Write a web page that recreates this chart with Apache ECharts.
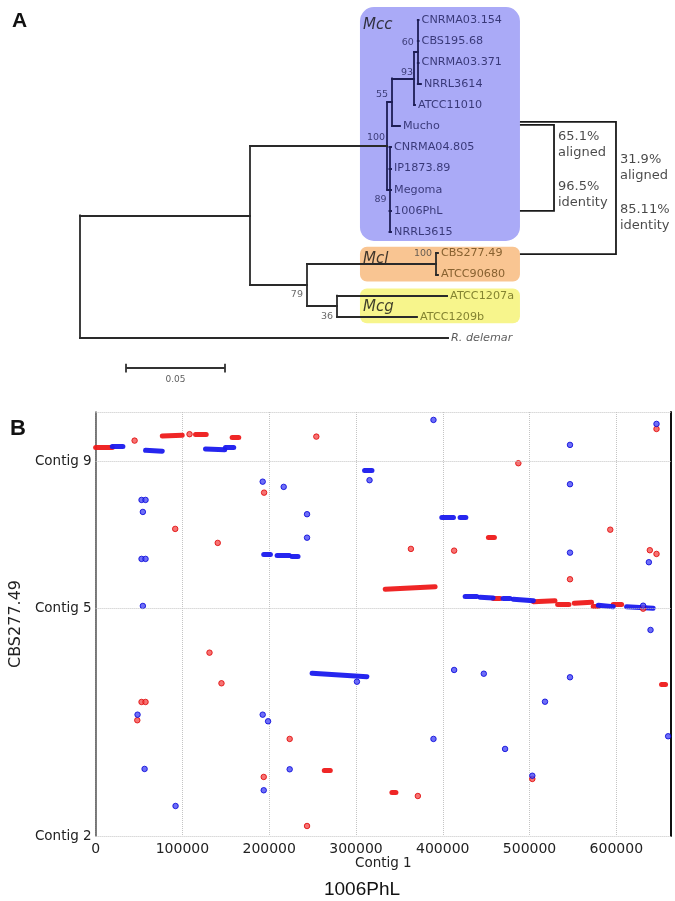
<!DOCTYPE html>
<html><head><meta charset="utf-8">
<script src="https://cdn.jsdelivr.net/npm/echarts@6/dist/echarts.min.js"></script>
<style>html,body{margin:0;padding:0;background:#fff}#c{width:675px;height:901px}</style>
</head><body><div id="c"></div>
<script>
// ================= Panel A : phylogenetic tree (data units: substitutions/site, leaf row) =================
const nodeIds     = ['root','nA','nMcc','n55','n93','n60','n89','n79','nMcl','n36'];
const nodeParent  = [null,'root','nA','nMcc','n55','n93','nMcc','nA','n79','n79'];
const nodeDepth   = [0,0.0859,0.1551,0.1576,0.1687,0.1706,0.1563,0.1146,0.1798,0.1298];
const nodeSupport = ['','','100','55','93','60','89','79','100','36'];

const leafNames  = ['CNRMA03.154','CBS195.68','CNRMA03.371','NRRL3614','ATCC11010','Mucho','CNRMA04.805','IP1873.89','Megoma','1006PhL','NRRL3615','CBS277.49','ATCC90680','ATCC1207a','ATCC1209b','R. delemar'];
const leafParent = ['n60','n60','n60','n60','n93','n55','n89','n89','n89','n89','n89','nMcl','nMcl','n36','n36','root'];
const leafDepth  = [0.1710,0.1710,0.1710,0.1722,0.1692,0.1616,0.1571,0.1571,0.1571,0.1571,0.1571,0.1808,0.1808,0.1854,0.1702,0.1859];
const leafClade  = ['Mcc','Mcc','Mcc','Mcc','Mcc','Mcc','Mcc','Mcc','Mcc','Mcc','Mcc','Mcl','Mcl','Mcg','Mcg','out'];

const cladeNames     = ['Mcc','Mcl','Mcg'];
const cladeBoxDepth  = [[0.1414,0.2222],[0.1414,0.2222],[0.1414,0.2222]];
const cladeBoxRows   = [[-0.61,10.42],[10.69,12.34],[12.66,14.31]];
const cladeLabelRow  = [0.24,11.27,13.54];
const cladeLabelDepth= [0.1429,0.1429,0.1429];

const bracketStart = 0.2222;
const bracketDepth = [0.2394,0.2707];
const bracketRows  = [[4.95,9.0],[4.81,11.04]];
const bracketText  = [['65.1%','aligned','','96.5%','identity'],['31.9%','aligned','','85.11%','identity']];
const bracketTextDepth = [0.2414,0.2727];
const bracketTextRow   = [7.06,8.14];

const scaleBarStart = 0.0232, scaleBarLength = 0.05, scaleBarRow = 16.42;

// ================= Panel B : dot plot (x: 1006PhL bp, y: CBS277.49 concatenated position) =================
const xTickInterval = 100000;
const xMax = 663000;
const yMax = 487500;
const yTickValues = [0,262000,430400];
const yTickLabels = ['Contig 2','Contig 5','Contig 9'];

const redSegments = [
 [0,446500,19200,446500],[76800,459800,99800,460800],[115100,462300,127400,462300],[157300,458500,164900,458500],
 [452600,343000,459500,343000],[333700,283700,391200,286700],[458300,273400,466000,273400],[504400,269400,529300,270600],
 [532400,266800,545400,266800],[551500,267600,571500,268700],[573400,263700,579200,263700],[596400,266500,606100,266500],
 [263500,75600,270400,75600],[652100,174500,656700,174500],[341400,50600,346000,50600]
];
const blueSegments = [
 [19200,447700,31400,447700],[57500,443500,76800,442500],[126600,445000,148800,444000],[149600,447400,159100,447400],
 [309900,420100,318400,420100],[193700,324000,201400,324000],[209100,322800,223200,322800],[226300,322000,233200,322000],
 [398900,366500,412300,366500],[420000,366500,426600,366500],[425800,275200,439200,275200],[443000,274500,458000,273700],
 [469500,272900,477500,272900],[481300,272200,504400,270600],[579200,265300,596400,263700],[611800,263700,642400,261800],
 [249400,187100,312600,183200]
];
const redDots = [
 [44900,454600],[108200,462000],[254300,459200],[194100,394800],[91700,353100],[140700,337000],[646300,468000],
 [487100,428600],[363300,330100],[413100,328100],[593000,352200],[638600,328600],[646300,324300],[546600,295200],
 [630900,261400],[131200,210800],[145000,175600],[52900,154100],[57500,154100],[48000,133100],[223600,111600],
 [193700,67900],[243600,11500],[503200,65600],[371300,46000]
];
const blueDots = [
 [315600,409100],[192500,407400],[216700,401400],[52900,386400],[57500,386400],[54400,372600],[243600,370000],
 [243600,343000],[52900,318600],[57500,318600],[54400,264500],[389300,478400],[546600,449700],[646300,473800],
 [546600,404500],[546600,325800],[637500,314800],[630900,264800],[639400,236900],[301100,177400],[48300,139500],
 [192500,139500],[198700,131900],[56400,77100],[223600,76700],[193700,52600],[92100,34500],[413100,190900],
 [447300,186600],[546600,182500],[517800,154400],[389300,111600],[659700,114700],[471800,100100],[503200,69300]
];

// ---------------- styling ----------------
const FONT = 'DejaVu Sans';
const NAVY = '#1e1e55';
const DARK = '#2a2a2a';
const cladeBoxColor  = ['#aaaaf7','#f9c592','#f7f58c'];
const cladeBoxRadius = [14,7,7];
const leafColor = {Mcc:'#1c1c58', Mcl:'#6b4818', Mcg:'#66661a', out:'#333'};
const supportOffset = {nMcc:[-11,-8], n55:[-10,-8], n93:[-7,-6], n60:[-10,-9], n89:[-9,10], n79:[-10,10], nMcl:[-13,-10], n36:[-10,10]};
const RED = '#ee1a1a', BLUE = '#1a1aee';

// ---------------- build tree geometry ----------------
const depthOf = {}, rowOf = {}, children = {}, parentOf = {};
nodeIds.forEach((id,i)=>{ depthOf[id]=nodeDepth[i]; children[id]=[]; parentOf[id]=nodeParent[i]; });
nodeIds.forEach((id,i)=>{ if(nodeParent[i]) children[nodeParent[i]].push(id); });
leafNames.forEach((n,i)=>{ const id='L'+i; depthOf[id]=leafDepth[i]; rowOf[id]=i; parentOf[id]=leafParent[i]; children[leafParent[i]].push(id); });
function row(id){
  if(rowOf[id]!==undefined) return rowOf[id];
  const rs = children[id].map(row);
  rowOf[id] = (Math.min(...rs)+Math.max(...rs))/2;
  return rowOf[id];
}
row('root');
function inMcc(id){ let p=id; while(p){ if(p==='nMcc') return true; p=parentOf[p]; } return false; }

const branchData = [];
Object.keys(children).forEach(id=>{
  if(children[id].length){
    const rs = children[id].map(row);
    branchData.push({coords:[[depthOf[id],Math.min(...rs)],[depthOf[id],Math.max(...rs)]], lineStyle:{color: inMcc(id)?NAVY:DARK}});
  }
});
Object.keys(parentOf).forEach(id=>{
  const p = parentOf[id]; if(!p) return;
  branchData.push({coords:[[depthOf[p],row(id)],[depthOf[id],row(id)]], lineStyle:{color: inMcc(p)?NAVY:DARK}});
});

const bracketData = bracketDepth.map((d,i)=>({coords:[[bracketStart,bracketRows[i][0]],[d,bracketRows[i][0]],[d,bracketRows[i][1]],[bracketStart,bracketRows[i][1]]]}));

const scaleData = [
  {coords:[[scaleBarStart,scaleBarRow],[scaleBarStart+scaleBarLength,scaleBarRow]]},
  {coords:[[scaleBarStart,scaleBarRow-0.21],[scaleBarStart,scaleBarRow+0.21]]},
  {coords:[[scaleBarStart+scaleBarLength,scaleBarRow-0.21],[scaleBarStart+scaleBarLength,scaleBarRow+0.21]]}
];

const supportData = nodeIds.map((id,i)=>nodeSupport[i]?({
  value:[depthOf[id],row(id)], name:nodeSupport[i],
  label:{offset:supportOffset[id], color: inMcc(id)?NAVY:'#444'}
}):null).filter(Boolean);

const chart = echarts.init(document.getElementById('c'));
const rowPx = 21.2;
chart.setOption({
  animation:false,
  backgroundColor:'#fff',
  title:[
    {text:'A', left:7, top:6, textStyle:{fontFamily:'Liberation Sans', fontWeight:'bold', fontSize:21, color:'#111'}},
    {text:'B', left:5, top:413, textStyle:{fontFamily:'Liberation Sans', fontWeight:'bold', fontSize:22, color:'#111'}},
    {text:'1006PhL', left:357, top:875, textAlign:'center', textStyle:{fontFamily:'Liberation Sans', fontWeight:'normal', fontSize:19, color:'#111'}}
  ],
  grid:[
    {left:80, top:20-0.8*rowPx, width:594, height:17.8*rowPx},
    {left:95, right:4, top:412, bottom:65}
  ],
  xAxis:[
    {gridIndex:0, type:'value', min:0, max:0.3, show:false},
    {gridIndex:1, type:'value', min:0, max:xMax, interval:xTickInterval,
     name:'Contig 1', nameLocation:'middle', nameGap:20,
     nameTextStyle:{fontFamily:FONT, fontSize:13.5, color:'#222'},
     axisLine:{show:false}, axisTick:{show:false},
     axisLabel:{fontFamily:FONT, fontSize:14, color:'#222', margin:6, showMaxLabel:false, formatter:v=>String(v)},
     splitLine:{show:true, lineStyle:{type:'dotted', color:'#c4c4c4', width:1}}}
  ],
  yAxis:[
    {gridIndex:0, type:'value', inverse:true, min:-0.8, max:17, show:false},
    {gridIndex:1, type:'value', min:0, max:yMax, position:'left',
     name:'CBS277.49', nameLocation:'middle', nameRotate:90, nameGap:66,
     nameTextStyle:{fontFamily:FONT, fontSize:16, color:'#222'},
     axisLine:{show:true, lineStyle:{color:'#555', width:1.5}}, axisTick:{show:false},
     axisLabel:{customValues:yTickValues, fontFamily:FONT, fontSize:13.5, color:'#222', margin:4,
       formatter:v=>{const k=yTickValues.indexOf(v); return k>=0?yTickLabels[k]:'';}},
     splitLine:{show:false}},
    {gridIndex:1, type:'value', min:0, max:yMax, position:'right',
     axisLine:{show:true, lineStyle:{color:'#111', width:2}}, axisTick:{show:false}, axisLabel:{show:false}, splitLine:{show:false}}
  ],
  series:[
    {type:'custom', coordinateSystem:'cartesian2d', xAxisIndex:0, yAxisIndex:0, z:1, silent:true,
     data: cladeNames.map((n,i)=>[cladeBoxDepth[i][0],cladeBoxRows[i][0],cladeBoxDepth[i][1],cladeBoxRows[i][1],i]),
     renderItem:(params,api)=>{
       const p1=api.coord([api.value(0),api.value(1)]), p2=api.coord([api.value(2),api.value(3)]);
       const i=api.value(4);
       return {type:'rect', shape:{x:p1[0],y:p1[1],width:p2[0]-p1[0],height:p2[1]-p1[1],r:cladeBoxRadius[i]}, style:{fill:cladeBoxColor[i]}};
     }},
    {type:'scatter', xAxisIndex:0, yAxisIndex:0, symbolSize:0, z:4, silent:true,
     data: cladeNames.map((n,i)=>({value:[cladeLabelDepth[i],cladeLabelRow[i]], name:n})),
     label:{show:true, position:'right', distance:0, formatter:'{b}', fontFamily:FONT, fontStyle:'italic', fontSize:15, color:'#111'}},
    {type:'lines', coordinateSystem:'cartesian2d', xAxisIndex:0, yAxisIndex:0, z:3, silent:true, polyline:false,
     lineStyle:{width:1.8, opacity:1, cap:'square'}, data:branchData},
    {type:'scatter', xAxisIndex:0, yAxisIndex:0, symbolSize:0, z:4, silent:true,
     data: leafNames.map((n,i)=>({value:[leafDepth[i],i], name:n,
       label:{color:leafColor[leafClade[i]], fontStyle: leafClade[i]==='out'?'italic':'normal'}})),
     label:{show:true, position:'right', distance:3, formatter:'{b}', fontFamily:FONT, fontSize:11.2}},
    {type:'scatter', xAxisIndex:0, yAxisIndex:0, symbolSize:0, z:4, silent:true, data:supportData,
     label:{show:true, position:'inside', formatter:'{b}', fontFamily:FONT, fontSize:9.5}},
    {type:'lines', coordinateSystem:'cartesian2d', xAxisIndex:0, yAxisIndex:0, z:3, silent:true, polyline:true,
     lineStyle:{width:1.8, opacity:1, color:'#1a1a1a'}, data:bracketData},
    {type:'scatter', xAxisIndex:0, yAxisIndex:0, symbolSize:0, z:4, silent:true,
     data: bracketText.map((t,i)=>({value:[bracketTextDepth[i],bracketTextRow[i]], name:t.join('\n')})),
     label:{show:true, position:'right', distance:0, align:'left', formatter:'{b}', fontFamily:FONT, fontSize:13, lineHeight:16.7, color:'#1a1a1a'}},
    {type:'lines', coordinateSystem:'cartesian2d', xAxisIndex:0, yAxisIndex:0, z:3, silent:true,
     lineStyle:{width:1.8, opacity:1, color:'#333'}, data:scaleData},
    {type:'scatter', xAxisIndex:0, yAxisIndex:0, symbolSize:0, silent:true,
     data:[{value:[scaleBarStart+scaleBarLength/2, scaleBarRow+0.55], name:String(scaleBarLength)}],
     label:{show:true, position:'inside', formatter:'{b}', fontFamily:FONT, fontSize:9, color:'#333'}},

    {type:'lines', coordinateSystem:'cartesian2d', xAxisIndex:1, yAxisIndex:1, z:3, silent:true,
     lineStyle:{color:RED, width:5, cap:'round', opacity:0.95},
     data: redSegments.map(s=>({coords:[[s[0],s[1]],[s[2],s[3]]]}))},
    {type:'lines', coordinateSystem:'cartesian2d', xAxisIndex:1, yAxisIndex:1, z:3, silent:true,
     lineStyle:{color:BLUE, width:5, cap:'round', opacity:0.95},
     data: blueSegments.map(s=>({coords:[[s[0],s[1]],[s[2],s[3]]]}))},
    {type:'scatter', xAxisIndex:1, yAxisIndex:1, z:4, silent:true, symbol:'circle', symbolSize:5.5,
     itemStyle:{color:'#f45050', borderColor:'#e00000', borderWidth:1}, data:redDots},
    {type:'scatter', xAxisIndex:1, yAxisIndex:1, z:4, silent:true, symbol:'circle', symbolSize:5.5,
     itemStyle:{color:'#4a4af5', borderColor:'#0000d8', borderWidth:1}, data:blueDots,
     markLine:{silent:true, symbol:'none', label:{show:false}, animation:false,
       lineStyle:{type:'dotted', color:'#c4c4c4', width:1},
       data: yTickValues.map(v=>({yAxis:v})).concat([{yAxis:yMax}])}}
  ]
});
</script></body></html>
